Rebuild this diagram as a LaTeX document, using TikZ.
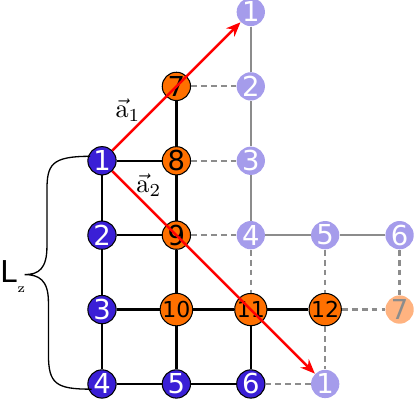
\documentclass[tikz,border=0pt]{standalone}
\usepackage{amsmath}
\usepackage{fontspec}
\newfontfamily\dejavu{DejaVu Sans}
\usetikzlibrary{arrows.meta}
\definecolor{siteblue}{HTML}{3A1FD6}
\definecolor{siteorange}{HTML}{FF7000}
\definecolor{ghostblue}{HTML}{A59CEB}
\definecolor{ghostorange}{HTML}{FFB380}
\definecolor{bondgray}{HTML}{8C8C8C}
\tikzset{
  site/.style={circle,inner sep=0pt,minimum size=0.38cm,font=\dejavu\fontsize{10.5}{11}\selectfont},
  bluesite/.style={site,draw=black,line width=0.4pt,fill=siteblue,text=white},
  orangesite/.style={site,draw=black,line width=0.4pt,fill=siteorange,text=black},
  ghostsite/.style={site,fill=ghostblue,text=white},
  ghostorangesite/.style={site,fill=ghostorange,text=bondgray},
  twodigit/.style={font=\dejavu\fontsize{8.4}{9}\selectfont},
  bond/.style={line width=0.85pt,black},
  ghostbond/.style={line width=0.85pt,bondgray},
  dashbond/.style={line width=0.85pt,bondgray,dash pattern=on 2.2pt off 1.6pt},
  lattice/.style={line width=0.95pt,red,-{Stealth[length=5.5pt,width=4.5pt]}}
}
\begin{document}
\begin{tikzpicture}
  \useasboundingbox (-1.371,-0.215) rectangle (4.207,5.161);
  % sites of the unit cell
  \foreach \n/\x/\y in {1/0/3,2/0/2,3/0/1,4/0/0,5/1/0,6/2/0}
    \node[bluesite] (b\n) at (\x,\y) {\n};
  \foreach \n/\x/\y in {7/1/4,8/1/3,9/1/2}
    \node[orangesite] (o\n) at (\x,\y) {\n};
  \foreach \n/\x/\y in {10/1/1,11/2/1,12/3/1}
    \node[orangesite,twodigit] (o\n) at (\x,\y) {\n};
  % periodic images
  \node[ghostsite] (g1t) at (2,5) {1};
  \node[ghostsite] (g2) at (2,4) {2};
  \node[ghostsite] (g3) at (2,3) {3};
  \node[ghostsite] (g4) at (2,2) {4};
  \node[ghostsite] (g5) at (3,2) {5};
  \node[ghostsite] (g6) at (4,2) {6};
  \node[ghostsite] (g1b) at (3,0) {1};
  \node[ghostorangesite] (g7) at (4,1) {7};
  % bonds
  \draw[bond] (b1) -- (b2) -- (b3) -- (b4) -- (b5) -- (b6);
  \draw[bond] (o7) -- (o8) -- (o9) -- (o10) -- (b5);
  \draw[bond] (b1) -- (o8);
  \draw[bond] (b2) -- (o9);
  \draw[bond] (b3) -- (o10) -- (o11) -- (o12);
  \draw[bond] (o11) -- (b6);
  \draw[ghostbond] (g1t) -- (g2) -- (g3) -- (g4) -- (g5) -- (g6);
  \foreach \a/\b in {o7/g2,o8/g3,o9/g4,g4/o11,g5/o12,g6/g7,o12/g7,o12/g1b,b6/g1b}
    \draw[dashbond] (\a) -- (\b);
  % lattice vectors
  \draw[lattice] (b1) -- (g1t);
  \draw[lattice] (b1) -- (g1b);
  \node (a1) at (0.35,3.68) {$\vec{\mathrm{a}}_1$};
  \node (a2) at (0.63,2.67) {$\vec{\mathrm{a}}_2$};
  % brace
  \coordinate (top) at (-0.16,3.06);
  \coordinate (tip) at (-1.04,1.47);
  \coordinate (bot) at (-0.14,-0.07);
  \draw[line width=0.5pt] (top) .. controls (-0.68,3.06) and (-0.74,2.95) .. (-0.74,2.6)
    -- (-0.74,1.85) .. controls (-0.74,1.55) and (-0.85,1.47) .. (tip)
    .. controls (-0.85,1.47) and (-0.72,1.4) .. (-0.72,1.1)
    -- (-0.72,0.4) .. controls (-0.72,0.0) and (-0.62,-0.07) .. (bot);
  \node[anchor=west,inner sep=0pt] (lz) at (-1.371,1.44)
    {\dejavu\fontsize{11.5}{12}\selectfont L\raisebox{-0.6ex}{\rmfamily\fontsize{5}{6}\selectfont z}};
\end{tikzpicture}
\end{document}
